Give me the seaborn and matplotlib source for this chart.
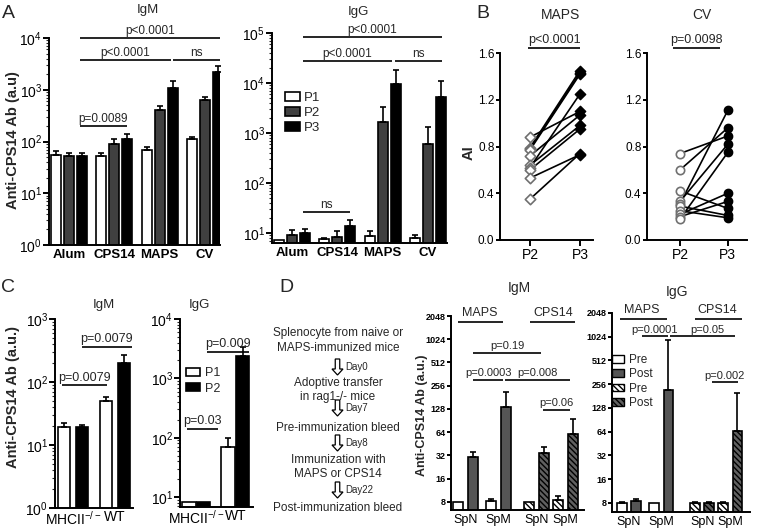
import numpy as np
import pandas as pd
import matplotlib
matplotlib.use('Agg')
import matplotlib.pyplot as plt
import seaborn as sns
from matplotlib.patches import Patch, FancyArrow
from matplotlib.ticker import NullLocator, FixedLocator

# ------------------------------------------------------------------ data
A_groups = ['Alum', 'CPS14', 'MAPS', 'CV']
A_periods = ['P1', 'P2', 'P3']
A_igm_P1 = [55, 53, 68, 110]
A_igm_P2 = [53, 88, 400, 620]
A_igm_P3 = [53, 110, 1100, 2250]
A_igm_err_P1 = [12, 8, 12, 12]
A_igm_err_P2 = [8, 25, 80, 100]
A_igm_err_P3 = [6, 28, 350, 650]
A_igg_P1 = [7.3, 7.6, 8.7, 7.8]
A_igg_P2 = [9.3, 8.2, 1650, 600]
A_igg_P3 = [10.0, 13.5, 9500, 5200]
A_igg_err_P1 = [0, 0.4, 2.0, 1.3]
A_igg_err_P2 = [2.3, 2.5, 1600, 700]
A_igg_err_P3 = [2.0, 5.0, 9000, 6000]

B_times = ['P2', 'P3']
B_maps_P2 = [0.88, 0.79, 0.78, 0.77, 0.72, 0.64, 0.62, 0.60, 0.53, 0.35]
B_maps_P3 = [1.10, 1.45, 1.43, 1.42, 1.07, 0.98, 1.25, 0.95, 0.73, 0.74]
B_cv_P2 = [0.74, 0.60, 0.42, 0.33, 0.31, 0.29, 0.25, 0.22, 0.20, 0.18]
B_cv_P3 = [0.89, 0.96, 0.27, 0.82, 1.11, 0.21, 0.19, 0.40, 0.33, 0.75]

C_groups = ['MHCII$^{-/-}$', 'WT']
C_periods = ['P1', 'P2']
C_igm_P1 = [19, 50]
C_igm_P2 = [19, 200]
C_igm_err_P1 = [3, 7]
C_igm_err_P2 = [2, 70]
C_igg_P1 = [8.4, 70]
C_igg_P2 = [8.4, 2400]
C_igg_err_P1 = [0, 28]
C_igg_err_P2 = [0, 1000]

D_xlabels = ['SpN', 'SpM', 'SpN', 'SpM']
D_phases = ['Pre', 'Post']
D_igm_pre = [8, 8.3, 8, 8.5]
D_igm_post = [31, 135, 34, 61]
D_igm_err_pre = [0, 0.5, 0, 1.0]
D_igm_err_post = [4.5, 75, 7, 33]
D_igg_pre = [8, 8, 8, 8]
D_igg_post = [8.5, 217, 8, 66]
D_igg_err_pre = [0.3, 0, 0.2, 0.2]
D_igg_err_post = [0.5, 710, 0.2, 130]
D_ticks = [8, 16, 32, 64, 128, 256, 512, 1024, 2048]

flow_lines = ['Splenocyte from naive or', 'MAPS-immunized mice',
              'Adoptive transfer', 'in rag1-/- mice',
              'Pre-immunization bleed',
              'Immunization with', 'MAPS or CPS14',
              'Post-immunization bleed']
flow_days = ['Day0', 'Day7', 'Day8', 'Day22']

# ------------------------------------------------------------------ style
sns.set_theme(style='ticks')
plt.rcParams['font.family'] = ['Liberation Sans', 'DejaVu Sans']
plt.rcParams['mathtext.default'] = 'regular'
plt.rcParams['hatch.color'] = 'black'
plt.rcParams['hatch.linewidth'] = 1.0
plt.rcParams['axes.linewidth'] = 1.3

W, H = 758, 530
fig = plt.figure(figsize=(W / 100, H / 100), dpi=100)


def px_axes(l, t, r, b):
    return fig.add_axes([l / W, 1 - b / H, (r - l) / W, (b - t) / H])


def T(x, y, s, **kw):
    kw.setdefault('ha', 'center')
    kw.setdefault('va', 'center')
    fig.text(x / W, 1 - y / H, s, **kw)


def style(ax, lw=1.4):
    for s in ['top', 'right']:
        ax.spines[s].set_visible(False)
    for s in ['left', 'bottom']:
        ax.spines[s].set_linewidth(lw)
        ax.spines[s].set_color('black')
    ax.tick_params(axis='y', which='major', length=4, width=lw, direction='out',
                   pad=1, colors='black')
    ax.tick_params(axis='y', which='minor', length=2, width=0.8, direction='out')
    ax.tick_params(axis='x', length=0, pad=3, colors='black')
    ax.set_xlabel('')
    ax.set_ylabel('')
    ax.set_facecolor('none')


def sig(ax, x1, x2, y, label, fs=8.5, dy=1.0, lw=1.2, xt=None):
    ax.plot([x1, x2], [y, y], color='black', lw=lw, clip_on=False,
            solid_capstyle='butt')
    if label:
        xt = (x1 + x2) / 2 if xt is None else xt
        ax.annotate(label, xy=(xt, y), xytext=(0, dy), textcoords='offset points',
                    ha='center', va='bottom', fontsize=fs, annotation_clip=False)


def bars(ax, groups, levels, vals, errs, palette, width, gap, native=False):
    rows = []
    for lev, vv in zip(levels, vals):
        for g, v in zip(groups, vv):
            rows.append({'g': g, 'h': lev, 'v': v})
    df = pd.DataFrame(rows)
    sns.barplot(data=df, x='g', y='v', hue='h', palette=palette, edgecolor='black',
                linewidth=1.2, errorbar=None, width=width, gap=gap, ax=ax,
                legend=False, native_scale=native, saturation=1)
    conts = list(ax.containers)
    for cont, ee in zip(conts, errs):
        xs, ys, es = [], [], []
        for p, e in zip(cont.patches, ee):
            if e > 0:
                xs.append(p.get_x() + p.get_width() / 2)
                ys.append(p.get_height())
                es.append(e)
        if xs:
            ax.errorbar(xs, ys, yerr=[np.zeros(len(es)), es], fmt='none',
                        ecolor='black', elinewidth=1.2, capsize=2.5, capthick=1.2,
                        zorder=1)
    return conts


pal3 = ['white', '#404040', 'black']

# ------------------------------------------------------------------ A IgM
ax = px_axes(49, 38, 220, 245)
bars(ax, A_groups, A_periods, [A_igm_P1, A_igm_P2, A_igm_P3],
     [A_igm_err_P1, A_igm_err_P2, A_igm_err_P3], pal3, 0.86, 0.23)
ax.set_yscale('log')
ax.set_ylim(1, 1e4)
ax.set_xlim(-0.44, 3.33)
style(ax)
ax.tick_params(axis='y', labelsize=10)
for t in ax.get_xticklabels():
    t.set_fontweight('bold'); t.set_fontsize(9.5)
sig(ax, 0.24, 3.33, 1e4, 'p<0.0001')
sig(ax, 0.24, 2.24, 3700, 'p<0.0001')
sig(ax, 2.30, 3.33, 3700, 'ns')
sig(ax, 0.24, 1.28, 200, 'p=0.0089')

# ------------------------------------------------------------------ A IgG
ax = px_axes(272, 33, 447, 243)
bars(ax, A_groups, A_periods, [A_igg_P1, A_igg_P2, A_igg_P3],
     [A_igg_err_P1, A_igg_err_P2, A_igg_err_P3], pal3, 0.86, 0.23)
ax.set_yscale('log')
ax.set_ylim(6.3, 1e5)
ax.set_xlim(-0.44, 3.42)
style(ax)
ax.tick_params(axis='y', labelsize=10)
for t in ax.get_xticklabels():
    t.set_fontweight('bold'); t.set_fontsize(9.5)
sig(ax, 0.24, 3.31, 10 ** 4.92, 'p<0.0001')
sig(ax, 0.24, 2.21, 10 ** 4.44, 'p<0.0001')
sig(ax, 2.27, 3.31, 10 ** 4.44, 'ns')
sig(ax, 0.24, 1.28, 26, 'ns')
fig.legend(handles=[Patch(fc=c, ec='black', lw=1.2) for c in pal3], labels=A_periods,
           loc='upper left', bbox_to_anchor=(285 / W, 1 - 92 / H), frameon=False,
           fontsize=9.5, handlelength=1.1, handleheight=0.7, labelspacing=0.2,
           handletextpad=0.3, borderpad=0, borderaxespad=0)

# ------------------------------------------------------------------ B


def paired(ax, p2, p3, marker, size):
    n = len(p2)
    df = pd.DataFrame({'sid': list(range(n)) * 2, 't': [0] * n + [1] * n,
                       'v': list(p2) + list(p3)})
    sns.lineplot(data=df, x='t', y='v', units='sid', estimator=None, color='black',
                 lw=1.2, ax=ax, legend=False)
    sns.scatterplot(data=df[df.t == 0], x='t', y='v', marker=marker, s=size,
                    color='white', edgecolor='#707070', linewidth=1.2, ax=ax,
                    legend=False, zorder=3)
    sns.scatterplot(data=df[df.t == 1], x='t', y='v', marker=marker, s=size,
                    color='black', edgecolor='black', linewidth=1.0, ax=ax,
                    legend=False, zorder=3)


for (l, r, xl, p2, p3, mk, lab, x1, x2, sz) in [
        (500, 593, (-0.6, 1.26), B_maps_P2, B_maps_P3, 'D', 'p<0.0001', -0.04, 1.0, 28),
        (647, 747, (-0.69, 1.4), B_cv_P2, B_cv_P3, 'o', 'p=0.0098', -0.15, 0.83, 36)]:
    ax = px_axes(l, 53, r, 240)
    paired(ax, p2, p3, mk, sz)
    ax.set_ylim(0, 1.6)
    ax.set_xlim(*xl)
    style(ax)
    ax.set_yticks([0, 0.4, 0.8, 1.2, 1.6])
    ax.set_yticklabels(['0.0', '0.4', '0.8', '1.2', '1.6'])
    ax.tick_params(axis='y', labelsize=8.5, length=3, pad=1)
    ax.set_xticks([0, 1])
    ax.set_xticklabels(B_times)
    ax.tick_params(axis='x', length=4, width=1.4, labelsize=10, pad=2)
    sig(ax, x1, x2, 1.645, lab, fs=9)

# ------------------------------------------------------------------ C IgM
pal2 = ['white', 'black']
ax = px_axes(55, 319, 133, 508)
bars(ax, C_groups, C_periods, [C_igm_P1, C_igm_P2], [C_igm_err_P1, C_igm_err_P2],
     pal2, 0.83, 0.3)
ax.set_yscale('log')
ax.set_ylim(1, 1e3)
ax.set_xlim(-0.43, 1.43)
style(ax)
ax.tick_params(axis='y', labelsize=10)
ax.tick_params(axis='x', labelsize=10, pad=1.5)
sig(ax, 0.21, 1.40, 363, 'p=0.0079', fs=9)
sig(ax, -0.26, 0.81, 88, 'p=0.0079', fs=9)

# ------------------------------------------------------------------ C IgG
ax = px_axes(180, 319, 253, 507)
bars(ax, C_groups, C_periods, [C_igg_P1, C_igg_P2], [C_igg_err_P1, C_igg_err_P2],
     pal2, 0.74, 0.07)
ax.set_yscale('log')
ax.set_ylim(6.8, 1e4)
ax.set_xlim(-0.41, 1.45)
style(ax)
ax.tick_params(axis='y', labelsize=10)
ax.tick_params(axis='x', labelsize=10, pad=1.5)
sig(ax, 0.28, 1.35, 2800, 'p=0.009', fs=9)
sig(ax, -0.22, 0.55, 141, 'p=0.03', fs=9)
fig.legend(handles=[Patch(fc=c, ec='black', lw=1.2) for c in pal2], labels=C_periods,
           loc='upper left', bbox_to_anchor=(186 / W, 1 - 367 / H), frameon=False,
           fontsize=9, handlelength=1.1, handleheight=0.6, labelspacing=0.3,
           handletextpad=0.4, borderpad=0, borderaxespad=0)

# ------------------------------------------------------------------ D bars
palD = ['white', '#555555']
hatch = '\\\\\\\\\\\\'


def d_panel(l, t, r, b, pos, xl, pre, post, epre, epost, width, gap, ylo):
    ax = px_axes(l, t, r, b)
    conts = bars(ax, pos, D_phases, [pre, post], [epre, epost], palD, width, gap,
                 native=True)
    for k, cont in enumerate(conts):
        for j, p in enumerate(cont.patches):
            if j >= 2:
                p.set_hatch(hatch)
                if k == 1:
                    p.set_facecolor('#606060')
    ax.set_yscale('log', base=2)
    ax.set_ylim(ylo, 2048)
    ax.yaxis.set_major_locator(FixedLocator(D_ticks))
    ax.yaxis.set_minor_locator(NullLocator())
    ax.set_yticklabels([str(v) for v in D_ticks])
    ax.set_xlim(*xl)
    style(ax)
    ax.tick_params(axis='y', labelsize=6.5, length=3)
    for tl in ax.get_yticklabels():
        tl.set_fontweight('bold')
    ax.set_xticks(pos)
    ax.set_xticklabels(D_xlabels)
    ax.tick_params(axis='x', labelsize=9, pad=3)
    return ax


posM = [0, 1, 2.15, 3.03]
ax = d_panel(451, 316, 584, 510, posM, (-0.44, 3.59), D_igm_pre, D_igm_post,
             D_igm_err_pre, D_igm_err_post, 1.034, 0.33, 6.3)
sig(ax, -0.23, 1.14, 2 ** 10.76, '')
sig(ax, 1.95, 3.32, 2 ** 10.76, '')
ax.annotate('MAPS', xy=(0.44, 2 ** 10.76), xytext=(0, 2), textcoords='offset points',
            ha='center', va='bottom', fontsize=9, annotation_clip=False)
ax.annotate('CPS14', xy=(2.65, 2 ** 10.76), xytext=(0, 2), textcoords='offset points',
            ha='center', va='bottom', fontsize=9, annotation_clip=False)
sig(ax, 0.23, 2.29, 2 ** 9.42, 'p=0.19', fs=8)
sig(ax, 0.23, 1.14, 2 ** 8.26, 'p=0.0003', fs=8)
sig(ax, 1.20, 3.17, 2 ** 8.26, 'p=0.008', xt=2.17, fs=8)
sig(ax, 2.35, 3.17, 2 ** 6.97, 'p=0.06', fs=8)

posG = [0, 1, 2.25, 3.12]
ax = d_panel(612, 313, 750, 512, posG, (-0.52, 3.72), D_igg_pre, D_igg_post,
             D_igg_err_pre, D_igg_err_post, 0.99, 0.29, 6.15)
sig(ax, -0.28, 1.17, 2 ** 10.75, '')
sig(ax, 2.03, 3.48, 2 ** 10.75, '')
ax.annotate('MAPS', xy=(0.4, 2 ** 10.75), xytext=(0, 2), textcoords='offset points',
            ha='center', va='bottom', fontsize=9, annotation_clip=False)
ax.annotate('CPS14', xy=(2.71, 2 ** 10.75), xytext=(0, 2), textcoords='offset points',
            ha='center', va='bottom', fontsize=9, annotation_clip=False)
sig(ax, 0.4, 1.2, 2 ** 10.03, 'p=0.0001', xt=0.8, fs=8)
sig(ax, 1.26, 3.26, 2 ** 10.03, 'p=0.05', xt=2.4, fs=8)
sig(ax, 2.55, 3.35, 2 ** 8.09, 'p=0.002', xt=2.95, fs=8)
fig.legend(handles=[Patch(fc='white', ec='black', lw=1.0),
                    Patch(fc='#555555', ec='black', lw=1.0),
                    Patch(fc='white', ec='black', lw=1.0, hatch=hatch),
                    Patch(fc='#606060', ec='black', lw=1.0, hatch=hatch)],
           labels=['Pre', 'Post', 'Pre', 'Post'],
           loc='upper left', bbox_to_anchor=(612 / W, 1 - 354 / H), frameon=False,
           fontsize=8.5, handlelength=1.0, handleheight=0.6, labelspacing=0.2,
           handletextpad=0.4, borderpad=0, borderaxespad=0)

# ------------------------------------------------------------------ flowchart
ov = fig.add_axes([0, 0, 1, 1])
ov.set_xlim(0, W)
ov.set_ylim(H, 0)
ov.axis('off')
ov.patch.set_alpha(0)
flow_y = [333, 348, 383, 397, 428, 460, 474, 508]
for s, y in zip(flow_lines, flow_y):
    ov.text(338, y, s, ha='center', va='center', fontsize=8.5)
for d, y in zip(flow_days, [367, 408, 443, 490]):
    ov.add_patch(FancyArrow(337.5, y - 8, 0, 16, width=4.5, head_width=11,
                            head_length=6, length_includes_head=True,
                            fc='white', ec='black', lw=0.9))
    ov.text(345, y, d, ha='left', va='center', fontsize=7)

# ------------------------------------------------------------------ texts
T(8, 13, 'A', fontsize=14)
T(483, 13, 'B', fontsize=14)
T(8, 288, 'C', fontsize=14)
T(286, 287, 'D', fontsize=14)
T(148, 10, 'IgM', fontsize=9.5)
T(358, 12, 'IgG', fontsize=9.5)
T(560, 15, 'MAPS', fontsize=10)
T(702, 15, 'CV', fontsize=10)
T(104, 305, 'IgM', fontsize=9.5)
T(199, 305, 'IgG', fontsize=9.5)
T(519, 288, 'IgM', fontsize=10)
T(677, 292, 'IgG', fontsize=10)
T(13, 140, 'Anti-CPS14 Ab (a.u)', rotation=90, fontsize=10.5, fontweight='bold')
T(469, 153, 'AI', rotation=90, fontsize=10.5, fontweight='bold')
T(13, 397, 'Anti-CPS14 Ab (a.u.)', rotation=90, fontsize=10.5, fontweight='bold')
T(422, 415, 'Anti-CPS14 Ab (a.u.)', rotation=90, fontsize=9, fontweight='bold')

fig.savefig('out.png', dpi=100)
